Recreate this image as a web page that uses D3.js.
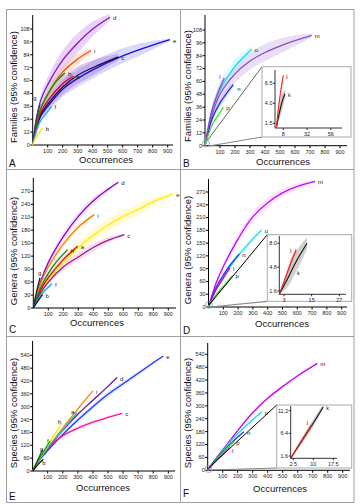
<!DOCTYPE html>
<html><head><meta charset="utf-8">
<script src="https://cdn.jsdelivr.net/npm/d3@7"></script>
<style>
html,body{margin:0;padding:0;background:#fff;}
svg text{font-family:"Liberation Sans",Arial,sans-serif;}
</style></head>
<body><svg id="c" width="360" height="504"></svg>
<script>
// ---------------- DATA ----------------
// x = occurrences, y = richness, ci = half width of the 95% band
const occTicks = [100,200,300,400,500,600,700,800,900];
const famTicks = [0,12,24,36,48,60,72,84,96,108];
const genTicks = [0,30,60,90,120,150,180,210,240,270];
const spTicks  = [0,60,120,180,240,300,360,420,480,540];

// Panel A – Families, localities a–i
const famA_a = [[0,0,0],[50,29,3],[100,41,5],[200,57,6],[271,64,4]];
const famA_b = [[0,0,0],[20,7,1],[40,11,1.5],[67,15.5,1]];
const famA_c = [[0,0,0],[50,27,3],[100,38,5],[200,54,7],[300,65,8],[450,75,6],[571,82,3]];
const famA_d = [[0,0,0],[50,40,4],[100,56,7],[200,79,9],[300,95,9],[400,108,7],[515,119,3]];
const famA_e = [[0,0,0],[50,26,3],[100,36,5],[200,52,7],[300,62,8],[400,70,8],[600,83,7],[800,93,4],[915,98,1]];
const famA_f = [[0,0,0],[50,22,2],[100,31,2],[126,36,1]];
const famA_g = [[0,0,0],[25,25,2],[50,38,2]];
const famA_h = [[0,0,0],[50,33,3],[100,47,4],[150,58,4],[215,67,2]];
const famA_i = [[0,0,0],[50,32,3],[100,47,5],[200,68,6],[300,80,5],[389,88,2]];

// Panel B – Families, localities j–p
const famB_l = [[0,0,0],[50,35,4],[100,54,5],[129,63,3]];
const famB_m = [[0,0,0],[50,30,4],[100,48,6],[200,67,8],[300,79,8],[400,87,8],[500,93,7],[600,98,5],[711,103,2]];
const famB_n = [[0,0,0],[50,26,3],[100,40,4],[150,50,4],[189,57,2]];
const famB_o = [[0,0,0],[50,34,4],[100,52,6],[200,74,7],[311,90,3]];
const famB_p = [[0,0,0],[50,20,2],[100,31,2],[122,36,1]];
const famB_j = [[1,1,0],[3,3.3,0.3],[5,5.2,0.4],[8,7.5,0.3]];
const famB_k = [[1,1,0],[4,2.8,0.8],[7,4.3,1.0],[9.7,5.2,0.5]];
const famInsetX = [8,32,56];
const famInsetY = [1.5,4.0,6.5];

// Panel C – Genera, localities a–i
const genC_a = [[0,0,0],[50,42,4],[100,70,6],[200,112,7],[296,143,4]];
const genC_b = [[0,0,0],[30,16,1],[62,31,1]];
const genC_c = [[0,0,0],[50,35,4],[100,60,6],[200,95,8],[300,118,9],[400,140,9],[500,157,7],[607,170,3]];
const genC_d = [[0,0,0],[50,62,5],[100,105,8],[200,165,10],[300,212,10],[400,248,9],[500,275,6],[567,291,3]];
const genC_e = [[0,0,0],[50,40,4],[100,65,6],[200,105,10],[300,140,12],[400,168,14],[500,192,14],[600,212,14],[700,228,12],[800,246,9],[933,264,3]];
const genC_f = [[0,0,0],[50,30,3],[100,48,4],[125,56,2]];
const genC_g = [[0,0,0],[20,35,2],[45,70,2]];
const genC_h = [[0,0,0],[50,48,4],[100,80,6],[150,105,6],[229,135,3]];
const genC_i = [[0,0,0],[50,58,5],[100,95,7],[200,148,8],[300,187,7],[407,216,3]];

// Panel D – Genera, localities j–p
const genD_l = [[0,0,0],[50,40,4],[100,68,5],[145,92,3]];
const genD_m = [[0,0,0],[50,55,5],[100,95,8],[200,160,11],[300,212,12],[400,245,12],[500,268,10],[600,283,7],[720,295,3]];
const genD_n = [[0,0,0],[50,45,4],[100,75,6],[150,100,6],[208,124,3]];
const genD_o = [[0,0,0],[50,40,4],[100,70,6],[200,120,7],[300,160,6],[360,181,3]];
const genD_p = [[0,0,0],[50,28,3],[100,48,4],[163,74,2]];
const genD_j = [[1,1.2,0],[3,2.8,0.4],[6,5.4,0.6],[8.3,7.1,0.4]];
const genD_k = [[1,1.2,0],[4,2.9,1.0],[8,5.4,1.4],[13,8.0,0.8]];
const genInsetX = [3,15,27];
const genInsetY = [1.6,4.8,8.0];

// Panel E – Species, localities a–i
const spE_a = [[0,0,0],[50,60,3],[100,108,4],[200,192,5],[294,272,3]];
const spE_b = [[0,0,0],[35,30,1],[71,55,1]];
const spE_c = [[0,0,0],[50,60,4],[100,105,6],[200,165,8],[300,200,9],[400,228,9],[500,250,7],[594,269,3]];
const spE_d = [[0,0,0],[50,60,3],[100,105,5],[200,190,6],[300,265,7],[400,330,6],[500,395,5],[560,436,3]];
const spE_e = [[0,0,0],[50,55,4],[100,95,6],[200,170,9],[300,238,11],[400,300,12],[500,358,13],[600,407,12],[700,456,10],[800,505,7],[867,537,3]];
const spE_f = [[0,0,0],[50,65,3],[116,140,3]];
const spE_g = [[0,0,0],[30,45,2],[67,101,2]];
const spE_h = [[0,0,0],[50,63,3],[100,120,4],[194,222,3]];
const spE_i = [[0,0,0],[50,62,3],[100,110,4],[200,200,5],[300,290,5],[400,374,3]];

// Panel F – Species, localities j–p
const spF_l = [[0,0,0],[50,40,2],[100,73,3],[149,105,2]];
const spF_m = [[0,0,0],[50,50,3],[100,95,5],[200,185,7],[300,268,8],[400,335,8],[500,390,8],[600,440,6],[731,498,3]];
const spF_n = [[0,0,0],[50,48,3],[100,85,4],[200,155,5],[242,180,3]];
const spF_o = [[0,0,0],[50,50,3],[100,90,4],[200,170,5],[300,235,5],[360,273,3]];
const spF_p = [[0,0,0],[50,45,3],[100,82,3],[171,132,2]];
const spF_j = [[1.5,1.1,0],[5,4.3,0.4],[9.4,8.2,0.4]];
const spF_k = [[1.5,1.1,0],[5,4.2,0.6],[10,8.6,0.8],[13.7,12,0.5]];
const spInsetX = [2.5,10,17.5];
const spInsetY = [1.6,6.4,11.2];

// ---------------- STYLE / LAYOUT ----------------
const svg = d3.select("#c");

// frame
const frame = svg.append("g").attr("stroke","#a0a0a0").attr("stroke-width",1).attr("fill","none");
frame.append("rect").attr("x",6.5).attr("y",9.5).attr("width",347.5).attr("height",493);
frame.append("line").attr("x1",180.5).attr("x2",180.5).attr("y1",9.5).attr("y2",502.5);
frame.append("line").attr("x1",6.5).attr("x2",354).attr("y1",169.5).attr("y2",169.5);
frame.append("line").attr("x1",6.5).attr("x2",354).attr("y1",336.5).attr("y2",336.5);

const CURVE = d3.curveCatmullRom.alpha(0.5);

function drawPanel(p){
  const g = svg.append("g");
  const x = d3.scaleLinear().domain([0,900]).range(p.xr);
  const y = d3.scaleLinear().domain([0,p.yTickMax]).range(p.yr);
  const ax = g.append("g").attr("stroke","#000").attr("stroke-width",1);
  ax.append("line").attr("x1",p.xr[0]).attr("x2",p.xr[0]).attr("y1",p.yr[0]).attr("y2",p.axisTop);
  ax.append("line").attr("x1",p.xr[0]).attr("x2",p.axisRight).attr("y1",p.yr[0]).attr("y2",p.yr[0]);
  p.yTicks.forEach(v=>{
    ax.append("line").attr("x1",p.xr[0]-2.5).attr("x2",p.xr[0]).attr("y1",y(v)).attr("y2",y(v));
    g.append("text").attr("x",p.xr[0]-3).attr("y",y(v)).attr("dy","0.35em").attr("text-anchor","end")
      .attr("font-size",5.5).attr("fill","#222").text(String(v));
  });
  occTicks.forEach(v=>{
    ax.append("line").attr("x1",x(v)).attr("x2",x(v)).attr("y1",p.yr[0]).attr("y2",p.yr[0]+2.5);
    g.append("text").attr("x",x(v)).attr("y",p.yr[0]+8).attr("text-anchor","middle")
      .attr("font-size",5.5).attr("fill","#222").text(String(v));
  });
  g.append("text").attr("transform",`translate(${p.yLab[0]},${p.yLab[1]}) rotate(-90)`)
    .attr("text-anchor","middle").attr("dy","0.35em").attr("font-size",9.5).attr("fill","#111").text(p.yTitle);
  g.append("text").attr("x",p.xLab[0]).attr("y",p.xLab[1]).attr("text-anchor","middle")
    .attr("font-size",9.5).attr("fill","#111").text("Occurrences");
  g.append("text").attr("x",p.letter[0]).attr("y",p.letter[1])
    .attr("font-size",10).attr("fill","#111").text(p.name);
  drawCurves(g, x, y, p.curves, 1.3, 6);
  if(p.inset) drawInset(g, p.inset);
}

function drawCurves(g, x, y, curves, sw, fs){
  const area = d3.area().curve(CURVE)
     .x(d=>x(d[0])).y0(d=>y(d[1]-d[2])).y1(d=>y(d[1]+d[2]));
  const line = d3.line().curve(CURVE).x(d=>x(d[0])).y(d=>y(d[1]));
  curves.forEach(c=>{
    g.append("path").attr("d",area(c.data)).attr("fill",c.band).attr("fill-opacity",c.bo||0.35).attr("stroke","none");
  });
  curves.forEach(c=>{
    g.append("path").attr("d",line(c.data)).attr("fill","none").attr("stroke",c.color).attr("stroke-width",sw);
  });
  curves.forEach(c=>{
    const e = c.data[c.data.length-1];
    g.append("text").attr("x",x(e[0])+(c.dx!==undefined?c.dx:3)).attr("y",y(e[1])+(c.dy!==undefined?c.dy:3))
      .attr("font-size",fs).attr("fill","#222").text(c.id);
  });
}

function drawInset(g, s){
  g.append("circle").attr("cx",s.circ[0]).attr("cy",s.circ[1]).attr("r",3.5)
    .attr("fill","none").attr("stroke","#999").attr("stroke-width",0.8);
  g.append("line").attr("x1",s.c1[0]).attr("y1",s.c1[1]).attr("x2",s.box[0]).attr("y2",s.box[1])
    .attr("stroke",s.c1col).attr("stroke-width",1);
  g.append("line").attr("x1",s.c2[0]).attr("y1",s.c2[1]).attr("x2",s.box[0]).attr("y2",s.box[3])
    .attr("stroke","#888").attr("stroke-width",1.2);
  g.append("rect").attr("x",s.box[0]).attr("y",s.box[1]).attr("width",s.box[2]-s.box[0]).attr("height",s.box[3]-s.box[1])
    .attr("fill","#fff").attr("stroke","#aaa").attr("stroke-width",1);
  const x = d3.scaleLinear().domain([s.xv[0],s.xv[1]]).range(s.xp);
  const y = d3.scaleLinear().domain([s.yv[0],s.yv[1]]).range(s.yp);
  const ax = g.append("g").attr("stroke","#000").attr("stroke-width",0.8);
  ax.append("line").attr("x1",s.ax).attr("x2",s.ax).attr("y1",s.ay).attr("y2",s.aTop);
  ax.append("line").attr("x1",s.ax).attr("x2",s.aRight).attr("y1",s.ay).attr("y2",s.ay);
  s.yt.forEach(v=>{
    ax.append("line").attr("x1",s.ax-2).attr("x2",s.ax).attr("y1",y(v)).attr("y2",y(v));
    g.append("text").attr("x",s.ax-2.5).attr("y",y(v)).attr("dy","0.35em").attr("text-anchor","end")
      .attr("font-size",5.5).attr("fill","#222").text(v.toFixed(1));
  });
  s.xt.forEach(v=>{
    ax.append("line").attr("x1",x(v)).attr("x2",x(v)).attr("y1",s.ay).attr("y2",s.ay+2);
    g.append("text").attr("x",x(v)).attr("y",s.ay+7.5).attr("text-anchor","middle")
      .attr("font-size",5.5).attr("fill","#222").text(String(v));
  });
  drawCurves(g, x, y, s.curves, 1.1, 5.5);
}

const panels = [
 {name:"A", yTitle:"Families (95% confidence)", yTickMax:108, yTicks:famTicks,
  xr:[32.7,167.7], yr:[145,29], axisTop:15, axisRight:173, yLab:[14,87], xLab:[106,163], letter:[9,167],
  curves:[
   {id:"e",data:famA_e,color:"#1010d8",band:"#9a8ff0"},
   {id:"c",data:famA_c,color:"#14143c",band:"#a060d8"},
   {id:"d",data:famA_d,color:"#8a10d0",band:"#c080ee"},
   {id:"i",data:famA_i,color:"#ff4a10",band:"#f8b890"},
   {id:"a",data:famA_a,color:"#e00010",band:"#c070d0"},
   {id:"h",data:famA_h,color:"#108a10",band:"#90c890"},
   {id:"g",data:famA_g,color:"#503060",band:"#c0a0d0",dx:-7,dy:-4},
   {id:"f",data:famA_f,color:"#30a8ff",band:"#b0dcff"},
   {id:"b",data:famA_b,color:"#ffe400",band:"#fff080"}
  ]},
 {name:"B", yTitle:"Families (95% confidence)", yTickMax:108, yTicks:famTicks,
  xr:[205,340], yr:[145.7,30], axisTop:15, axisRight:347, yLab:[188,86], xLab:[283,165], letter:[183,167],
  curves:[
   {id:"m",data:famB_m,color:"#8a4cc8",band:"#c0a0e0"},
   {id:"o",data:famB_o,color:"#10e0f0",band:"#a0f0f8"},
   {id:"n",data:famB_n,color:"#2a2ad0",band:"#a0a0f0",dx:4,dy:6},
   {id:"l",data:famB_l,color:"#a040c0",band:"#d0a0e0",dx:-5,dy:1},
   {id:"p",data:famB_p,color:"#40e040",band:"#a0f0a0"}
  ],
  inset:{box:[262,66.7,351,137], circ:[206,143.5], c1:[207,141], c2:[209,146], c1col:"#666",
   xv:[0,56], xp:[275.4,330.8], yv:[1.5,6.5], yp:[123.3,83.3], ax:275, ay:128, aTop:70, aRight:342,
   xt:famInsetX, yt:famInsetY,
   curves:[
    {id:"k",data:famB_k,color:"#111",band:"#909090",bo:0.5},
    {id:"j",data:famB_j,color:"#ff2020",band:"#ff9090",bo:0.5}
   ]}},
 {name:"C", yTitle:"Genera (95% confidence)", yTickMax:270, yTicks:genTicks,
  xr:[33.3,168.3], yr:[308,191.3], axisTop:178, axisRight:176, yLab:[14,251], xLab:[97,326], letter:[9,333],
  curves:[
   {id:"e",data:genC_e,color:"#ffee00",band:"#fff27a"},
   {id:"c",data:genC_c,color:"#a0168c",band:"#e8a0dc"},
   {id:"d",data:genC_d,color:"#8a00d8",band:"#e0b0f0"},
   {id:"i",data:genC_i,color:"#ff8000",band:"#ffd0a0"},
   {id:"a",data:genC_a,color:"#e80010",band:"#f8a0a0"},
   {id:"h",data:genC_h,color:"#108a10",band:"#a0d8a0"},
   {id:"g",data:genC_g,color:"#222",band:"#c0c0c0",dx:-2,dy:-3},
   {id:"f",data:genC_f,color:"#00b8f0",band:"#a0e0f8"},
   {id:"b",data:genC_b,color:"#111",band:"#c0c0c0"}
  ]},
 {name:"D", yTitle:"Genera (95% confidence)", yTickMax:270, yTicks:genTicks,
  xr:[208.5,341.7], yr:[307,192], axisTop:179, axisRight:347, yLab:[188,250], xLab:[282,327], letter:[183,334],
  curves:[
   {id:"m",data:genD_m,color:"#cc00ff",band:"#eebaf8"},
   {id:"o",data:genD_o,color:"#10e0f0",band:"#a0f0f8"},
   {id:"n",data:genD_n,color:"#1a40e0",band:"#a0b0f0"},
   {id:"l",data:genD_l,color:"#e000b0",band:"#f0a0e0"},
   {id:"p",data:genD_p,color:"#30d030",band:"#a0f0a0"}
  ],
  inset:{box:[267.3,234.7,351.7,301.3], circ:[209,305], c1:[209,305], c2:[210,307], c1col:"#000",
   xv:[3,27], xp:[284,339.3], yv:[1.6,8.0], yp:[291,243.3], ax:279.3, ay:294.3, aTop:236, aRight:346,
   xt:genInsetX, yt:genInsetY,
   curves:[
    {id:"k",data:genD_k,color:"#111",band:"#a0a0a0",bo:0.5,dx:-10,dy:32},
    {id:"j",data:genD_j,color:"#e02020",band:"#f09090",bo:0.5,dx:-6,dy:2}
   ]}},
 {name:"E", yTitle:"Species (95% confidence)", yTickMax:540, yTicks:spTicks,
  xr:[32.6,168.3], yr:[471,355.3], axisTop:341, axisRight:175, yLab:[14,413], xLab:[103,491], letter:[9,500],
  curves:[
   {id:"e",data:spE_e,color:"#1a3cff",band:"#a8b8ff"},
   {id:"c",data:spE_c,color:"#ff1493",band:"#ffb0d8"},
   {id:"d",data:spE_d,color:"#6a1aa0",band:"#c0a0e0"},
   {id:"i",data:spE_i,color:"#ff8000",band:"#ffd0a0"},
   {id:"a",data:spE_a,color:"#20c8c0",band:"#a0e8e8",dx:-6,dy:1},
   {id:"h",data:spE_h,color:"#f0f000",band:"#fff8a0",dx:-4,dy:1},
   {id:"f",data:spE_f,color:"#10a010",band:"#a0e0a0",dx:-3,dy:2},
   {id:"g",data:spE_g,color:"#206020",band:"#a0c0a0",dx:-3,dy:2},
   {id:"b",data:spE_b,color:"#111",band:"#c0c0c0",dx:-1,dy:6}
  ]},
 {name:"F", yTitle:"Species (95% confidence)", yTickMax:540, yTicks:spTicks,
  xr:[207.7,342.7], yr:[470.3,354.3], axisTop:343, axisRight:350, yLab:[188,413], xLab:[280,492], letter:[183,497],
  curves:[
   {id:"m",data:spF_m,color:"#cc00ff",band:"#eebaf8"},
   {id:"o",data:spF_o,color:"#10e0f0",band:"#a0f0f8"},
   {id:"n",data:spF_n,color:"#1a40e0",band:"#a0b0f0"},
   {id:"p",data:spF_p,color:"#30d030",band:"#a0f0a0"},
   {id:"l",data:spF_l,color:"#e020c0",band:"#f0a0e0",dx:2,dy:5}
  ],
  inset:{box:[276.7,405,351.7,468], circ:[208.5,469], c1:[208.5,468], c2:[210,470], c1col:"#000",
   xv:[2.5,17.5], xp:[293.3,333.3], yv:[1.6,11.2], yp:[456,410.7], ax:290.7, ay:458.3, aTop:406, aRight:337,
   xt:spInsetX, yt:spInsetY,
   curves:[
    {id:"k",data:spF_k,color:"#111",band:"#a0a0a0",bo:0.5},
    {id:"j",data:spF_j,color:"#e02020",band:"#f09090",bo:0.5,dx:-5,dy:-1}
   ]}}
];
panels.forEach(drawPanel);
</script></body></html>
